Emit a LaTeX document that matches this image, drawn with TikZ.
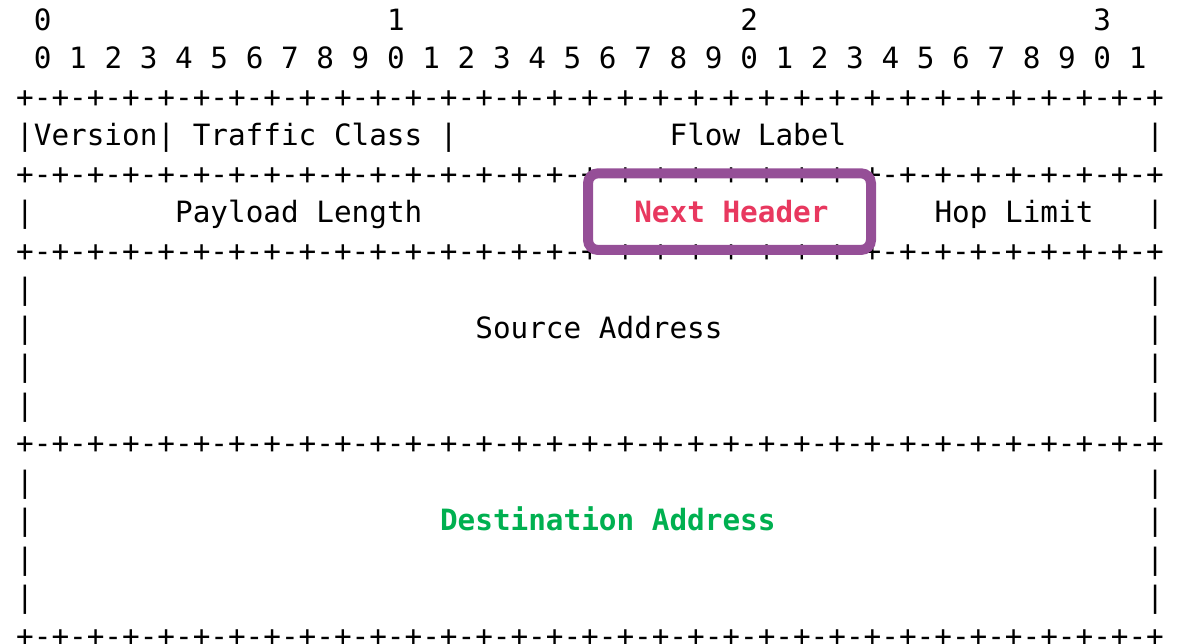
\documentclass[tikz,border=0pt]{standalone}
\usepackage{fontspec}
\newfontfamily\asciifont{DejaVu Sans Mono}
\definecolor{boxpurple}{HTML}{954F97}
\definecolor{fieldred}{HTML}{E8385F}
\definecolor{fieldgreen}{HTML}{00B050}
% place a text cell at (column, row) of the character grid
\newcommand\cell[4]{\node[#1] (#2) at ({16.2+17.66*(#3)},{30.2+38.5*(#4)})}
\begin{document}
\begin{tikzpicture}[x=1pt,y=-1pt,
  ascii/.style={anchor=base west, inner sep=0pt, outer sep=0pt,
    font=\asciifont\fontsize{29.33}{35}\selectfont},
  boldred/.style={ascii, text=fieldred, font=\asciifont\bfseries\fontsize{29.33}{35}\selectfont},
  boldgreen/.style={ascii, text=fieldgreen, font=\asciifont\bfseries\fontsize{29.33}{35}\selectfont},
  hlbox/.style={draw=boxpurple, line width=10pt, rounded corners=10pt,
    minimum width=283pt, minimum height=76.7pt, inner sep=0pt}]
\useasboundingbox (0,0) rectangle (1178,644);

% bit ruler
\cell{ascii}{ten0}{1}{0}{0};
\cell{ascii}{ten1}{21}{0}{1};
\cell{ascii}{ten2}{41}{0}{2};
\cell{ascii}{ten3}{61}{0}{3};
\foreach \i [evaluate=\i as \d using {int(mod(\i,10))}] in {0,...,31}
  {\cell{ascii}{bit\i}{1+2*\i}{1}{\d};}

% separator lines
\foreach \r in {2,4,6,11,16}
  {\cell{ascii}{sep\r}{0}{\r}{+-+-+-+-+-+-+-+-+-+-+-+-+-+-+-+-+-+-+-+-+-+-+-+-+-+-+-+-+-+-+-+-+};}

% first word
\cell{ascii}{vertc}{0}{3}{|Version| Traffic Class |};
\cell{ascii}{flow}{37}{3}{Flow Label};
\cell{ascii}{rb3}{64}{3}{|};

% second word
\cell{ascii}{lb5}{0}{5}{|};
\cell{ascii}{plen}{9}{5}{Payload Length};
\cell{ascii}{mb5a}{32}{5}{|};
\cell{boldred}{nexth}{35}{5}{Next Header};
\cell{ascii}{mb5b}{48}{5}{|};
\cell{ascii}{hop}{52}{5}{Hop Limit};
\cell{ascii}{rb5}{64}{5}{|};

% address blocks
\foreach \r in {7,8,9,10,12,13,14,15}
  {\cell{ascii}{lb\r}{0}{\r}{|};
   \cell{ascii}{rb\r}{64}{\r}{|};}
\cell{ascii}{src}{26}{8}{Source Address};
\cell{boldgreen}{dst}{24}{13}{Destination Address};

% highlight frame round the Next Header field
\node[hlbox] (nhbox) at (729.5,211.65) {};
\end{tikzpicture}
\end{document}
